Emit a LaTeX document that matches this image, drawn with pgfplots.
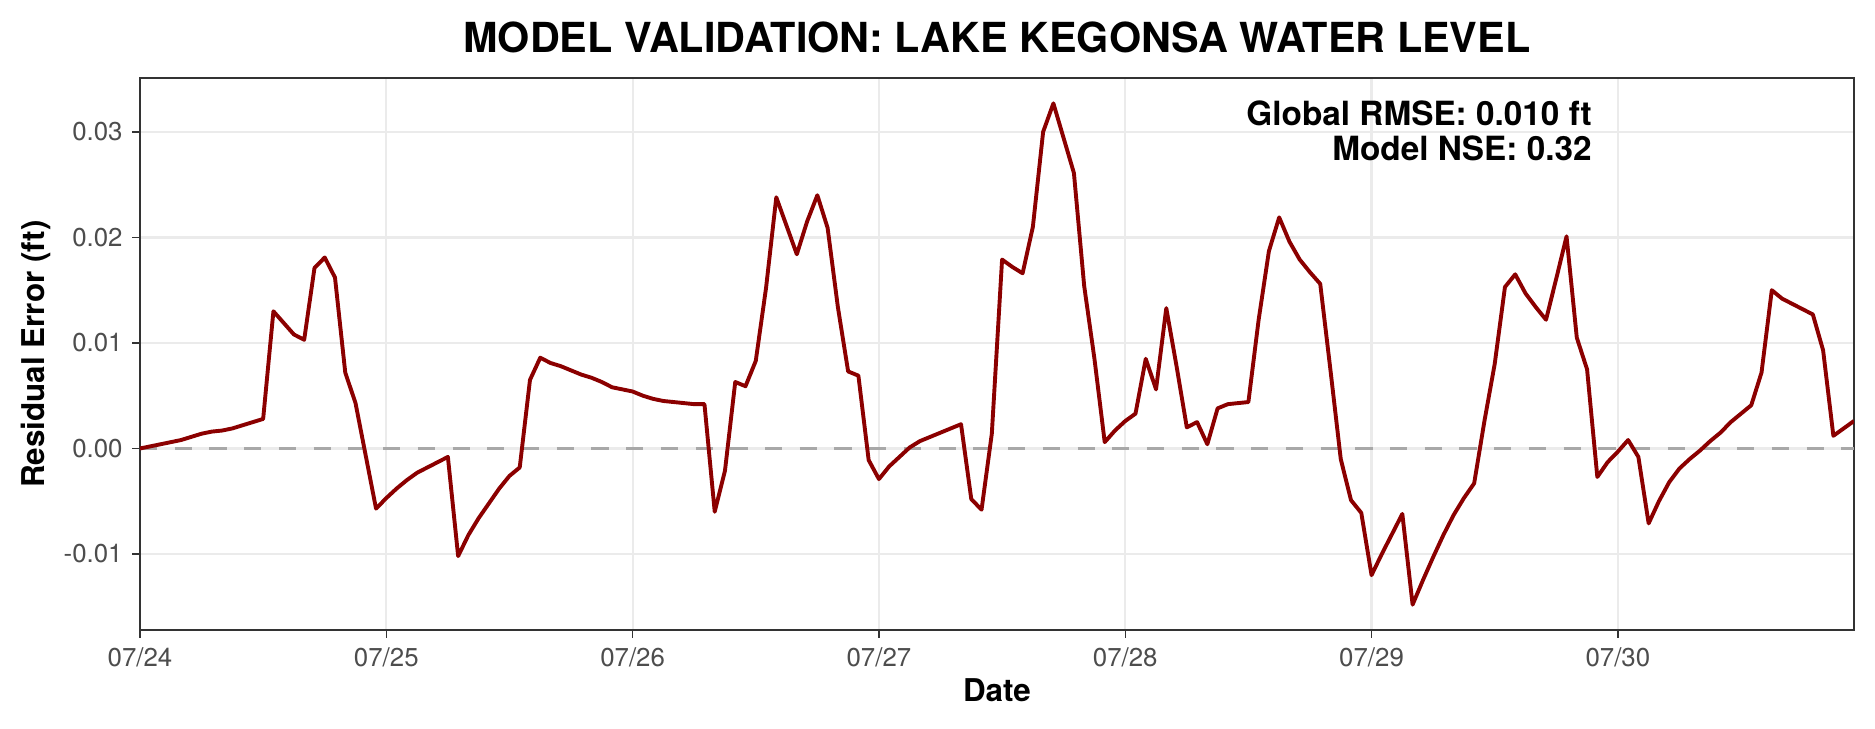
\documentclass[border=0pt]{standalone}
\usepackage{pgfplots}
\pgfplotsset{compat=1.18}
\usepackage{fontspec}
\setmainfont{TeX Gyre Heros}
\definecolor{linered}{HTML}{8B0000}
\definecolor{gridgray}{HTML}{EBEBEB}
\definecolor{zerogray}{HTML}{A8A8A8}
\definecolor{greyA}{HTML}{333333}
\definecolor{greyB}{HTML}{4D4D4D}
\begin{document}
\begin{tikzpicture}
\path[use as bounding box] (-50.4bp,-35.6bp) rectangle (624.6bp,226.8bp);
\begin{axis}[
  at={(0,0)}, anchor=south west,
  scale only axis, width=617bp, height=198.7bp,
  xmin=0, xmax=167, ymin=-0.0172, ymax=0.0351,
  scaled y ticks=false, scaled x ticks=false,
  xtick={0,24,48,72,96,120,144},
  xticklabels={07/24,07/25,07/26,07/27,07/28,07/29,07/30},
  ytick={-0.01,0,0.01,0.02,0.03},
  yticklabels={-0.01,0.00,0.01,0.02,0.03},
  tick pos=left, tick align=outside,
  major tick length=2.75bp,
  every tick/.style={greyA, line width=0.5bp},
  axis line style={greyA, line width=0.5bp},
  grid=major,
  major grid style={gridgray, line width=0.8bp},
  ticklabel style={font=\fontsize{9.3bp}{11bp}\selectfont, text=greyB},
  title={MODEL VALIDATION: LAKE KEGONSA WATER LEVEL},
  title style={at={(axis description cs:0.5,1)}, anchor=base, yshift=3.2bp, font=\bfseries\fontsize{14.9bp}{17bp}\selectfont},
  xlabel={Date},
  xlabel style={at={(axis description cs:0.5,0)}, anchor=base, yshift=-25.6bp, font=\bfseries\fontsize{11.3bp}{13bp}\selectfont},
  ylabel={Residual Error (ft)},
  ylabel style={at={(axis description cs:-0.0606,0.5)}, anchor=center, font=\bfseries\fontsize{11.3bp}{13bp}\selectfont},
  clip=true,
]
\addplot[zerogray, line width=1.1bp, dash pattern=on 6.2bp off 6.3bp, forget plot] coordinates {(0,0) (167,0)};
\addplot[linered, line width=1.4bp, line join=round] table {
x y
0 0.0000
1 0.0002
2 0.0004
3 0.0006
4 0.0008
5 0.0011
6 0.0014
7 0.0016
8 0.0017
9 0.0019
10 0.0022
11 0.0025
12 0.0028
13 0.0130
14 0.0119
15 0.0108
16 0.0103
17 0.0171
18 0.0181
19 0.0162
20 0.0072
21 0.0043
22 -0.0007
23 -0.0057
24 -0.0047
25 -0.0038
26 -0.0030
27 -0.0023
28 -0.0018
29 -0.0013
30 -0.0008
31 -0.0102
32 -0.0082
33 -0.0066
34 -0.0052
35 -0.0038
36 -0.0026
37 -0.0018
38 0.0065
39 0.0086
40 0.0081
41 0.0078
42 0.0074
43 0.0070
44 0.0067
45 0.0063
46 0.0058
47 0.0056
48 0.0054
49 0.0050
50 0.0047
51 0.0045
52 0.0044
53 0.0043
54 0.0042
55 0.0042
56 -0.0060
57 -0.0021
58 0.0063
59 0.0059
60 0.0083
61 0.0152
62 0.0238
63 0.0211
64 0.0184
65 0.0215
66 0.0240
67 0.0209
68 0.0134
69 0.0073
70 0.0069
71 -0.0011
72 -0.0029
73 -0.0017
74 -0.0008
75 0.0001
76 0.0007
77 0.0011
78 0.0015
79 0.0019
80 0.0023
81 -0.0048
82 -0.0058
83 0.0014
84 0.0179
85 0.0172
86 0.0166
87 0.0210
88 0.0300
89 0.0327
90 0.0294
91 0.0261
92 0.0154
93 0.0085
94 0.0006
95 0.0017
96 0.0026
97 0.0033
98 0.0085
99 0.0056
100 0.0133
101 0.0078
102 0.0020
103 0.0025
104 0.0004
105 0.0038
106 0.0042
107 0.0043
108 0.0044
109 0.0122
110 0.0187
111 0.0219
112 0.0196
113 0.0179
114 0.0167
115 0.0156
116 0.0074
117 -0.0010
118 -0.0049
119 -0.0061
120 -0.0120
121 -0.0100
122 -0.0081
123 -0.0062
124 -0.0148
125 -0.0125
126 -0.0103
127 -0.0082
128 -0.0063
129 -0.0047
130 -0.0033
131 0.0026
132 0.0080
133 0.0153
134 0.0165
135 0.0147
136 0.0134
137 0.0122
138 0.0161
139 0.0201
140 0.0105
141 0.0075
142 -0.0027
143 -0.0013
144 -0.0003
145 0.0008
146 -0.0008
147 -0.0071
148 -0.0050
149 -0.0032
150 -0.0019
151 -0.0010
152 -0.0002
153 0.0007
154 0.0015
155 0.0025
156 0.0033
157 0.0041
158 0.0072
159 0.0150
160 0.0142
161 0.0137
162 0.0132
163 0.0127
164 0.0093
165 0.0012
166 0.0019
167 0.0026
};
\node[anchor=base east, font=\bfseries\fontsize{12bp}{14bp}\selectfont, inner sep=0pt] at (axis cs:141.5,0.0306) {Global RMSE: 0.010 ft};
\node[anchor=base east, font=\bfseries\fontsize{12bp}{14bp}\selectfont, inner sep=0pt] at (axis cs:141.5,0.0273) {Model NSE: 0.32};
\end{axis}
\end{tikzpicture}
\end{document}
